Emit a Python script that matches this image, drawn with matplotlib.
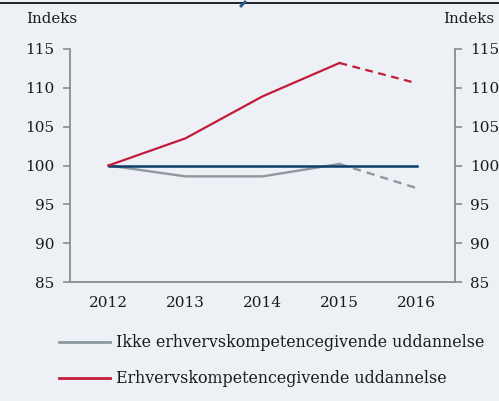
import matplotlib
matplotlib.use("Agg")
import matplotlib.pyplot as plt
from matplotlib.lines import Line2D

years = ["2012", "2013", "2014", "2015", "2016"]
ikke = [100, 98.6, 98.6, 100.2, 97.1]
erhverv = [100, 103.5, 108.9, 113.2, 110.6]
baseline = [100, 100, 100, 100, 100]
yticks = [85, 90, 95, 100, 105, 110, 115]

plt.rcParams['font.family'] = ['DejaVu Serif']
bg = '#edf1f5'
gray = '#8d989f'
red = '#c41a3c'
navy = '#0c3c6c'
spine = '#8c8c8c'

fig = plt.figure(figsize=(4.99, 4.01), dpi=100, facecolor=bg)
ax = fig.add_axes([70/499, 1-282/401, (455-70)/499, (282-49)/401])
ax.set_facecolor(bg)
x = list(range(len(years)))

ax.plot(x, baseline, color=navy, lw=1.8, zorder=3)
ax.plot(x[:4], ikke[:4], color=gray, lw=1.7, zorder=2)
ax.plot(x[3:], ikke[3:], color=gray, lw=1.7, ls=(0, (3.5, 2.5)), zorder=2)
ax.plot(x[:4], erhverv[:4], color=red, lw=1.6, zorder=4)
ax.plot(x[3:], erhverv[3:], color=red, lw=1.6, ls=(0, (3.5, 2.5)), zorder=4)

ax.set_xlim(-0.5, 4.5)
ax.set_ylim(85, 115)
ax.set_yticks(yticks)
ax.set_xticks(x)
ax.set_xticklabels(years)
ax.tick_params(axis='x', length=0, labelsize=11, pad=10, colors='#1a1a1a')
ax.tick_params(axis='y', length=5, width=1.2, color=spine, labelsize=11, pad=6,
               labelcolor='#1a1a1a', left=True, right=True, labelleft=True, labelright=True)
ax.spines['top'].set_visible(False)
for s in ['left', 'right', 'bottom']:
    ax.spines[s].set_color(spine)
    ax.spines[s].set_linewidth(1.3)

fig.text(26/499, 1-19/401, "Indeks", fontsize=10.8, va='center', ha='left', color='#1a1a1a')
fig.text(443/499, 1-19/401, "Indeks", fontsize=10.8, va='center', ha='left', color='#1a1a1a')

fig.add_artist(Line2D([0, 1], [1-3/401, 1-3/401], color='black', lw=1.2, transform=fig.transFigure))
fig.add_artist(Line2D([241/499, 245/499], [1-6/401, 1-2/401], color='#2a5a8c', lw=2, transform=fig.transFigure))

handles = [Line2D([], [], color=gray, lw=2.0), Line2D([], [], color=red, lw=2.0)]
labels = ["Ikke erhvervskompetencegivende uddannelse", "Erhvervskompetencegivende uddannelse"]
fig.legend(handles, labels, loc='upper left', bbox_to_anchor=(45/499, 1-320/401),
           frameon=False, fontsize=11.4, handlelength=3.2, handletextpad=0.4,
           labelspacing=1.2, labelcolor='#1a1a1a')

fig.savefig("out.png", dpi=100, facecolor=bg)
